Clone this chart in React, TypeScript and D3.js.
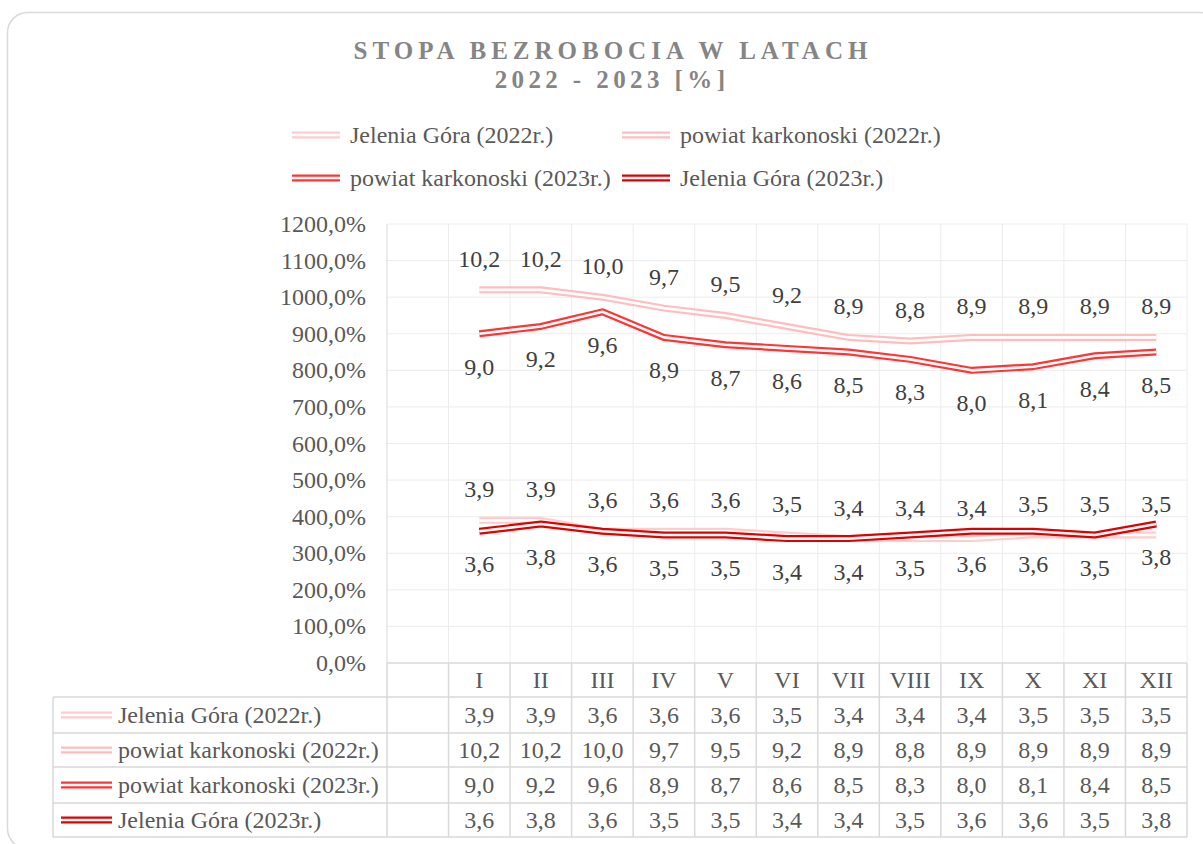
import React from "react";
import * as d3 from "d3";

// months (first slot is the empty column under the y axis)
const categories = ["", "I", "II", "III", "IV", "V", "VI", "VII", "VIII", "IX", "X", "XI", "XII"];
const months = categories.slice(1);

const seriesNames = [
  "Jelenia Góra (2022r.)",
  "powiat karkonoski (2022r.)",
  "powiat karkonoski (2023r.)",
  "Jelenia Góra (2023r.)",
];
const jg2022 = [3.9, 3.9, 3.6, 3.6, 3.6, 3.5, 3.4, 3.4, 3.4, 3.5, 3.5, 3.5];
const pk2022 = [10.2, 10.2, 10.0, 9.7, 9.5, 9.2, 8.9, 8.8, 8.9, 8.9, 8.9, 8.9];
const pk2023 = [9.0, 9.2, 9.6, 8.9, 8.7, 8.6, 8.5, 8.3, 8.0, 8.1, 8.4, 8.5];
const jg2023 = [3.6, 3.8, 3.6, 3.5, 3.5, 3.4, 3.4, 3.5, 3.6, 3.6, 3.5, 3.8];
const yTicks = [0, 1, 2, 3, 4, 5, 6, 7, 8, 9, 10, 11, 12];

const colors = ["#ffcccc", "#ffbdbd", "#ff3535", "#e00000"];
const labelAbove = [true, true, false, false];

const FONT = "'Liberation Serif', 'Times New Roman', serif";

const fmt = (v: number) => v.toFixed(1).replace(".", ",");

const App = () => {
  const width = 1203;
  const height = 844;
  const plot = { left: 387, right: 1187, top: 224, bottom: 663 };
  const table = { left: 53 };
  const rowTops = [663, 697, 733, 767, 803, 837];

  const x = d3.scaleBand().domain(categories).range([plot.left, plot.right]).padding(0);
  const y = d3.scaleLinear().domain([0, 12]).range([plot.bottom, plot.top]);
  const cx = (m: string) => (x(m) as number) + x.bandwidth() / 2;

  const allSeries = [jg2022, pk2022, pk2023, jg2023];
  const line = d3
    .line<number>()
    .x((_, i) => cx(months[i]))
    .y((d) => y(d));

  const colEdges = categories.map((c) => x(c) as number).concat([plot.right]);

  // Excel-style compound (double) line
  const DoubleLine = ({ d, color }: { d: string; color: string }) => (
    <g>
      <path d={d} fill="none" stroke={color} strokeWidth={7} strokeLinejoin="round" />
      <path d={d} fill="none" stroke="#ffffff" strokeWidth={2.6} strokeLinejoin="round" />
    </g>
  );

  const legendItems = [
    { x: 292, y: 135 },
    { x: 622, y: 135 },
    { x: 292, y: 178 },
    { x: 622, y: 178 },
  ];

  return (
    <svg
      width={width}
      height={height}
      style={{ position: "absolute", left: 0, top: 0, background: "#fff" }}
      fontFamily={FONT}
    >
      <rect x={7.5} y={12.5} width={1212} height={836} rx={20} fill="#fff" stroke="#d9d9d9" strokeWidth={1.5} />

      {/* title */}
      <text x={613} y={59} textAnchor="middle" fontSize={25} fontWeight="bold" fill="#858585" letterSpacing={5}>
        STOPA BEZROBOCIA W LATACH
      </text>
      <text x={612} y={88} textAnchor="middle" fontSize={25} fontWeight="bold" fill="#858585" letterSpacing={4.4}>
        2022 - 2023 [%]
      </text>

      {/* legend */}
      {seriesNames.map((name, i) => (
        <g key={name}>
          <DoubleLine d={`M${legendItems[i].x},${legendItems[i].y}H${legendItems[i].x + 48}`} color={colors[i]} />
          <text x={legendItems[i].x + 58} y={legendItems[i].y + 8} fontSize={24} fill="#595959">
            {name}
          </text>
        </g>
      ))}

      {/* horizontal gridlines + y tick labels */}
      {yTicks.map((t) => (
        <g key={t}>
          {t > 0 && (
            <line x1={plot.left} x2={plot.right} y1={y(t)} y2={y(t)} stroke="#ececec" strokeWidth={1} />
          )}
          <text x={366} y={y(t) + 8} textAnchor="end" fontSize={24} fill="#595959">
            {fmt(t * 100)}%
          </text>
        </g>
      ))}

      {/* vertical gridlines */}
      {colEdges.map((e, i) => (
        <line
          key={i}
          x1={e}
          x2={e}
          y1={plot.top}
          y2={plot.bottom}
          stroke={i === 0 ? "#d9d9d9" : "#ececec"}
          strokeWidth={1}
        />
      ))}

      {/* series */}
      {allSeries.map((s, i) => (
        <DoubleLine key={i} d={line(s) as string} color={colors[i]} />
      ))}

      {/* data labels */}
      {allSeries.map((s, i) =>
        s.map((v, j) => (
          <text
            key={`${i}-${j}`}
            x={cx(months[j])}
            y={labelAbove[i] ? y(v) - 23 : y(v) + 41}
            textAnchor="middle"
            fontSize={24}
            fill="#404040"
          >
            {fmt(v)}
          </text>
        ))
      )}

      {/* data table */}
      <g stroke="#d9d9d9" strokeWidth={1.5}>
        <line x1={plot.left} x2={plot.right} y1={rowTops[0]} y2={rowTops[0]} />
        {rowTops.slice(1).map((r, i) => (
          <line key={i} x1={table.left} x2={plot.right} y1={r} y2={r} />
        ))}
        <line x1={table.left} x2={table.left} y1={rowTops[1]} y2={rowTops[5]} />
        {colEdges.map((e, i) => (
          <line key={i} x1={e} x2={e} y1={rowTops[0]} y2={rowTops[5]} />
        ))}
      </g>
      {months.map((m) => (
        <text key={m} x={cx(m)} y={(rowTops[0] + rowTops[1]) / 2 + 8} textAnchor="middle" fontSize={24} fill="#595959">
          {m}
        </text>
      ))}
      {allSeries.map((s, i) => {
        const mid = (rowTops[i + 1] + rowTops[i + 2]) / 2;
        return (
          <g key={i}>
            <DoubleLine d={`M${table.left + 8},${mid}H${table.left + 59}`} color={colors[i]} />
            <text x={table.left + 65} y={mid + 8} fontSize={24} fill="#595959">
              {seriesNames[i]}
            </text>
            {s.map((v, j) => (
              <text key={j} x={cx(months[j])} y={mid + 8} textAnchor="middle" fontSize={24} fill="#595959">
                {fmt(v)}
              </text>
            ))}
          </g>
        );
      })}
    </svg>
  );
};

export default App;
